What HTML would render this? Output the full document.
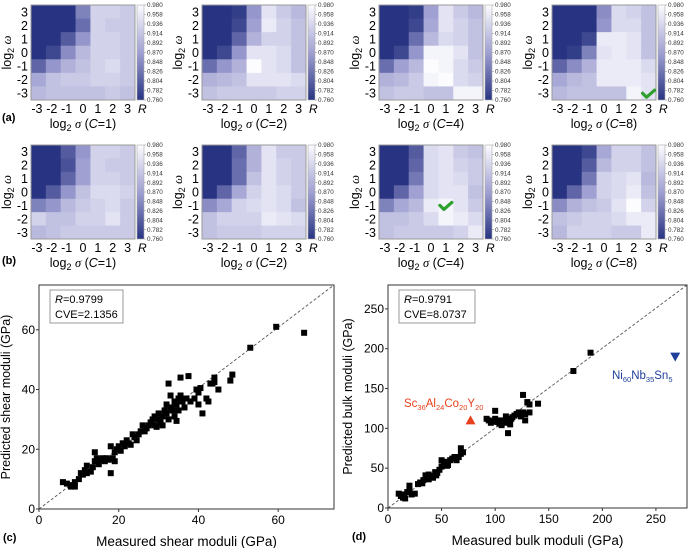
<!DOCTYPE html>
<html><head><meta charset="utf-8"><style>
html,body{margin:0;padding:0;background:#fff;}
svg{display:block;font-family:"Liberation Sans",Arial,sans-serif;}
</style></head><body>
<svg id="fig" width="689" height="548" viewBox="0 0 689 548" xmlns="http://www.w3.org/2000/svg">
<defs>
<linearGradient id="cb" x1="0" y1="1" x2="0" y2="0">
<stop offset="0" stop-color="rgb(40,52,130)"/>
<stop offset="0.5" stop-color="rgb(160,160,210)"/>
<stop offset="1" stop-color="rgb(252,252,255)"/>
</linearGradient>
</defs>
</svg>
<script>
const sigmaTicks=[-3,-2,-1,0,1,2,3];
const omegaTicks=[3,2,1,0,-1,-2,-3];
const cbTicks=["0.980","0.958","0.936","0.914","0.892","0.870","0.848","0.826","0.804","0.782","0.760"];
const panelC=[1,2,4,8,1,2,4,8];
const hmA1=[[.76,.76,.76,.84,.93,.93,.92],[.76,.76,.76,.82,.93,.92,.92],[.76,.76,.80,.86,.93,.93,.92],[.76,.78,.85,.90,.93,.93,.92],[.81,.86,.89,.91,.93,.94,.92],[.88,.91,.92,.92,.93,.93,.92],[.90,.91,.91,.91,.91,.92,.91]];
const hmA2=[[.76,.76,.77,.86,.95,.92,.90],[.76,.76,.78,.87,.96,.93,.91],[.76,.76,.81,.89,.93,.93,.91],[.76,.78,.86,.95,.95,.94,.91],[.82,.86,.89,.98,.95,.94,.91],[.89,.90,.91,.95,.95,.95,.94],[.91,.92,.92,.92,.92,.93,.93]];
const hmA3=[[.76,.76,.77,.87,.95,.92,.90],[.76,.76,.78,.88,.95,.93,.91],[.76,.76,.82,.90,.94,.93,.91],[.76,.78,.86,.97,.97,.95,.91],[.82,.87,.90,.98,.97,.94,.92],[.89,.90,.92,.97,.98,.94,.93],[.91,.92,.92,.91,.91,.97,.97]];
const hmA4=[[.76,.76,.76,.85,.94,.93,.91],[.76,.76,.76,.86,.94,.94,.91],[.76,.76,.78,.96,.96,.95,.91],[.76,.77,.84,.95,.96,.95,.91],[.81,.85,.89,.96,.96,.96,.94],[.88,.90,.91,.96,.96,.96,.95],[.90,.91,.91,.91,.91,.97,.95]];
const hmB1=[[.76,.76,.80,.86,.93,.93,.92],[.76,.76,.79,.87,.93,.92,.92],[.76,.76,.81,.87,.93,.93,.92],[.76,.80,.86,.91,.94,.94,.93],[.84,.86,.90,.92,.93,.94,.92],[.93,.91,.91,.93,.93,.95,.92],[.90,.91,.92,.92,.92,.92,.92]];
const hmB2=[[.76,.76,.81,.89,.95,.92,.92],[.76,.76,.82,.89,.95,.93,.92],[.76,.76,.82,.91,.95,.93,.92],[.76,.81,.88,.93,.95,.94,.92],[.85,.88,.93,.94,.95,.94,.91],[.91,.93,.93,.93,.96,.95,.94],[.91,.92,.92,.92,.93,.93,.93]];
const hmB3=[[.76,.76,.80,.94,.95,.92,.91],[.76,.76,.81,.94,.95,.93,.92],[.76,.76,.83,.94,.95,.94,.92],[.76,.81,.87,.94,.95,.95,.91],[.84,.88,.90,.96,.97,.95,.92],[.91,.91,.92,.94,.97,.96,.94],[.91,.92,.92,.92,.92,.93,.96]];
const hmB4=[[.76,.76,.78,.88,.93,.93,.91],[.76,.76,.80,.90,.93,.93,.91],[.76,.76,.83,.93,.94,.95,.90],[.76,.81,.87,.93,.94,.96,.91],[.85,.89,.91,.92,.95,.98,.93],[.91,.92,.93,.93,.94,.96,.96],[.90,.93,.93,.93,.92,.92,.96]];
const checkCells=[null,null,null,[3,-3],null,null,[1,-1],null];
const shearMeasured=[6,7,8,8.5,9,9,10,10.5,11,11.5,12,12,13,13.5,14,14,14.5,15,15.5,16,16.5,17,17.5,18,18,18.5,19,19,19.5,20,20.5,21,21.5,22,22.5,23,23.5,24,24.5,25,25.5,26,26.5,27,27.5,28,28.5,29,29,29.5,30,30,30.5,31,31,31.5,32,32,32.5,32.5,33,33,33.5,34,34,34.5,34.5,35,35,35.5,35.5,36,36.5,37,37.5,38,39,39.5,40,40,40.5,41,42,42.5,43,43.5,44,44,45,48,48.5,53,59.5,66.5];
const shearPredicted=[9,8.5,7.5,8,7.5,9,10,12,11.5,13,14.5,12,12.5,14,16,19,17,15,16.5,17,16,17,16.5,12,21,17,16,19,20,21,19.5,22,21,23,22,21.5,25,24,23,25,26,28,26,27,28,29,30,31,28,27.5,30,32,29,31,28,33,32,35,42,30,34,38,33,36,31,29.5,35,37,33,44,38,36,34,37,44.5,36,37,40,35,39,40.5,32,37,36,42,42,44,42.5,40,43,45,54,61,59];
const bulkMeasured=[10,12,14,15,16,18,20,20,22,25,28,30,32,33,35,36,38,40,42,44,46,48,50,50,52,54,56,58,60,62,64,66,68,68,70,38,45,55,92,94,96,98,100,100,102,104,105,106,108,110,110,112,112,114,115,116,118,120,122,124,126,126,128,128,130,132,132,140,173,189];
const bulkPredicted=[18,15,13,17,12,20,28,22,17,18,30,32,31,35,41,37,42,40,38,45,44,48,52,60,55,58,54,60,62,64,60,64,75,68,70,36,41,53,112,110,107,109,122,112,108,106,110,104,108,107,115,94,110,105,112,114,116,118,120,115,142,120,110,118,133,120,130,131,172,195];
const outlierRed=[77,110];
const outlierBlue=[268,190];

const svg=document.getElementById('fig');
const NS='http://www.w3.org/2000/svg';
function mk(tag,attrs,parent){const e=document.createElementNS(NS,tag);for(const k in attrs)e.setAttribute(k,attrs[k]);(parent||svg).appendChild(e);return e;}
function txt(s,x,y,size,anchor,parent,extra){const t=mk('text',Object.assign({x:x,y:y,'font-size':size,'text-anchor':anchor||'start'},extra||{}),parent);t.innerHTML=s;return t;}
function colorR(r){const t=Math.max(0,Math.min(1,(r-0.76)/0.22));let c;
 if(t<0.5){const u=t/0.5;c=[40+120*u,52+108*u,130+80*u];}else{const u=(t-0.5)/0.5;c=[160+92*u,160+92*u,210+45*u];}
 return 'rgb('+c.map(Math.round).join(',')+')';}

const heatData=[hmA1,hmA2,hmA3,hmA4,hmB1,hmB2,hmB3,hmB4];
const xs=[31,202,379,552];
const rows=[[5,100],[145,239]];
heatData.forEach((d,p)=>{
 const g=mk('g',{});
 
 
 const x0=xs[p%4],y0=rows[p<4?0:1][0],y1=rows[p<4?0:1][1],W=104,H=y1-y0;
 const cw=W/7,ch=H/7;
 const sx=v=>x0+(v+3)*cw, sy=v=>y0+(3-v)*ch;
 omegaTicks.forEach((w,i)=>sigmaTicks.forEach((s,j)=>{
  const r=mk('rect',{x:sx(s),y:sy(w),width:cw+0.5,height:ch+0.5,fill:colorR(d[i][j])},g);
  
  
 }));
 mk('rect',{x:x0,y:y0,width:W,height:H,fill:'none',stroke:'#999','stroke-width':1},g);
 sigmaTicks.forEach(s=>txt(String(s),sx(s)+cw/2+(s<0?-1.5:0),y1+13,12.5,'middle',g));
 omegaTicks.forEach(w=>txt(String(w),x0-3,sy(w)+ch/2+4.5,12.5,'end',g));
 const yt=txt('log<tspan font-size="9" dy="3">2</tspan><tspan dy="-3"> </tspan><tspan font-style="italic" font-family="Liberation Serif">ω</tspan>',0,0,12.5,'middle',g,{transform:'translate('+(x0-20)+','+((y0+y1)/2)+') rotate(-90)'});
 
 
 const xt=txt('log<tspan font-size="9" dy="3">2</tspan><tspan dy="-3"> </tspan><tspan font-style="italic" font-family="Liberation Serif">σ</tspan> (<tspan font-style="italic">C</tspan>='+panelC[p]+')',x0+W/2,y1+28,12.5,'middle',g);
 
 
 const cbx=x0+106;
 const cb=mk('rect',{x:cbx,y:y0,width:7,height:H,fill:'url(#cb)',stroke:'#aaa','stroke-width':0.6},g);
 
 
 cbTicks.forEach((l,i)=>{const yy=y0+i*H/10;mk('line',{x1:cbx+7,x2:cbx+9,y1:yy,y2:yy,stroke:'#888','stroke-width':0.5},g);txt(l,cbx+10,yy+2.2,6.3,'start',g,{fill:'#333'});});
 txt('R',cbx+1,y1+13,12,'start',g,{'font-style':'italic'});
 if(checkCells[p]){const c=checkCells[p];const cx=sx(c[0])+cw/2,cy=sy(c[1])+ch/2;
  const ck=mk('path',{d:'M'+(cx-6)+','+(cy)+' l4,4 l8,-7',fill:'none',stroke:'#2ea02e','stroke-width':3.2,'stroke-linecap':'round','stroke-linejoin':'round'},g);
  
  }
});
txt('(a)',2,121,11,'start',svg,{'font-weight':'bold'});
txt('(b)',2,264,11,'start',svg,{'font-weight':'bold'});

function scatter(o){
 const g=mk('g',{});
 
 
 const sx=v=>o.x0+(v-0)/(o.max)*(o.x1-o.x0), sy=v=>o.y1-(v)/(o.ymax)*(o.y1-o.y0);
 mk('line',{x1:sx(0),y1:sy(0),x2:o.x1,y2:o.y0,stroke:'#555','stroke-width':0.9,'stroke-dasharray':'3,2'},g);
 o.xs.forEach((v,i)=>{const r=mk('rect',{x:sx(v)-3,y:sy(o.ys[i])-3,width:6,height:6,fill:'#000'},g);
  
  });
 mk('rect',{x:o.x0,y:o.y0,width:o.x1-o.x0,height:o.y1-o.y0,fill:'none',stroke:'#333','stroke-width':1},g);
 o.ticks.forEach(t=>{mk('line',{x1:sx(t),x2:sx(t),y1:o.y1,y2:o.y1+3,stroke:'#333'},g);txt(t,sx(t),o.y1+15,12,'middle',g);
  mk('line',{x1:o.x0,x2:o.x0-3,y1:sy(t),y2:sy(t),stroke:'#333'},g);txt(t,o.x0-4,sy(t)+4,12,'end',g);});
 const xt=txt(o.xt,(o.x0+o.x1)/2,o.y1+37,13.5,'middle',g);
 
 
 const yt=txt(o.yt,0,0,12.5,'middle',g,{transform:'translate('+o.ytx+','+((o.y0+o.y1)/2)+') rotate(-90)'});
 
 
 const lb=mk('rect',{x:o.x0+11,y:o.y0+5,width:o.lw,height:33,fill:'#fff',stroke:'#999'},g);
 
 
 txt('<tspan font-style="italic">R</tspan>=' + o.r,o.x0+16,o.y0+18,11,'start',g);
 txt('CVE='+o.cve,o.x0+16,o.y0+33,11,'start',g);
 txt(o.tag,o.x0-36,o.y1+32,11,'start',g,{'font-weight':'bold'});
 return {g,sx,sy};
}
scatter({name:'shear-scatter',x0:39,x1:334,y0:285,y1:509,max:74,ymax:75,ticks:[0,20,40,60],xs:shearMeasured,ys:shearPredicted,xt:'Measured shear moduli (GPa)',yt:'Predicted shear moduli (GPa)',ytx:10,lw:73,r:'0.9799',cve:'2.1356',tag:'(c)'});
const d=scatter({name:'bulk-scatter',x0:388,x1:687,y0:285,y1:508,max:279,ymax:280,ticks:[0,50,100,150,200,250],xs:bulkMeasured,ys:bulkPredicted,xt:'Measured bulk moduli (GPa)',yt:'Predicted bulk moduli (GPa)',ytx:352,lw:76,r:'0.9791',cve:'8.0737',tag:'(d)'});
const rx=d.sx(outlierRed[0]),ry=d.sy(outlierRed[1]);
const tr=mk('path',{d:'M'+(rx-5)+','+(ry+4)+' L'+(rx+5)+','+(ry+4)+' L'+rx+','+(ry-5)+'Z',fill:'#e8401c'},d.g);


txt('Sc<tspan font-size="7.5" dy="3">36</tspan><tspan dy="-3">Al</tspan><tspan font-size="7.5" dy="3">24</tspan><tspan dy="-3">Co</tspan><tspan font-size="7.5" dy="3">20</tspan><tspan dy="-3">Y</tspan><tspan font-size="7.5" dy="3">20</tspan>',404,407,11.5,'start',d.g,{fill:'#e8401c'});
const bx=d.sx(outlierBlue[0]),by=d.sy(outlierBlue[1]);
const bt=mk('path',{d:'M'+(bx-5)+','+(by-4)+' L'+(bx+5)+','+(by-4)+' L'+bx+','+(by+5)+'Z',fill:'#1f3f9a'},d.g);


txt('Ni<tspan font-size="7.5" dy="3">60</tspan><tspan dy="-3">Nb</tspan><tspan font-size="7.5" dy="3">35</tspan><tspan dy="-3">Sn</tspan><tspan font-size="7.5" dy="3">5</tspan>',612,379,11.5,'start',d.g,{fill:'#1f3f9a'});
</script>
</body></html>
